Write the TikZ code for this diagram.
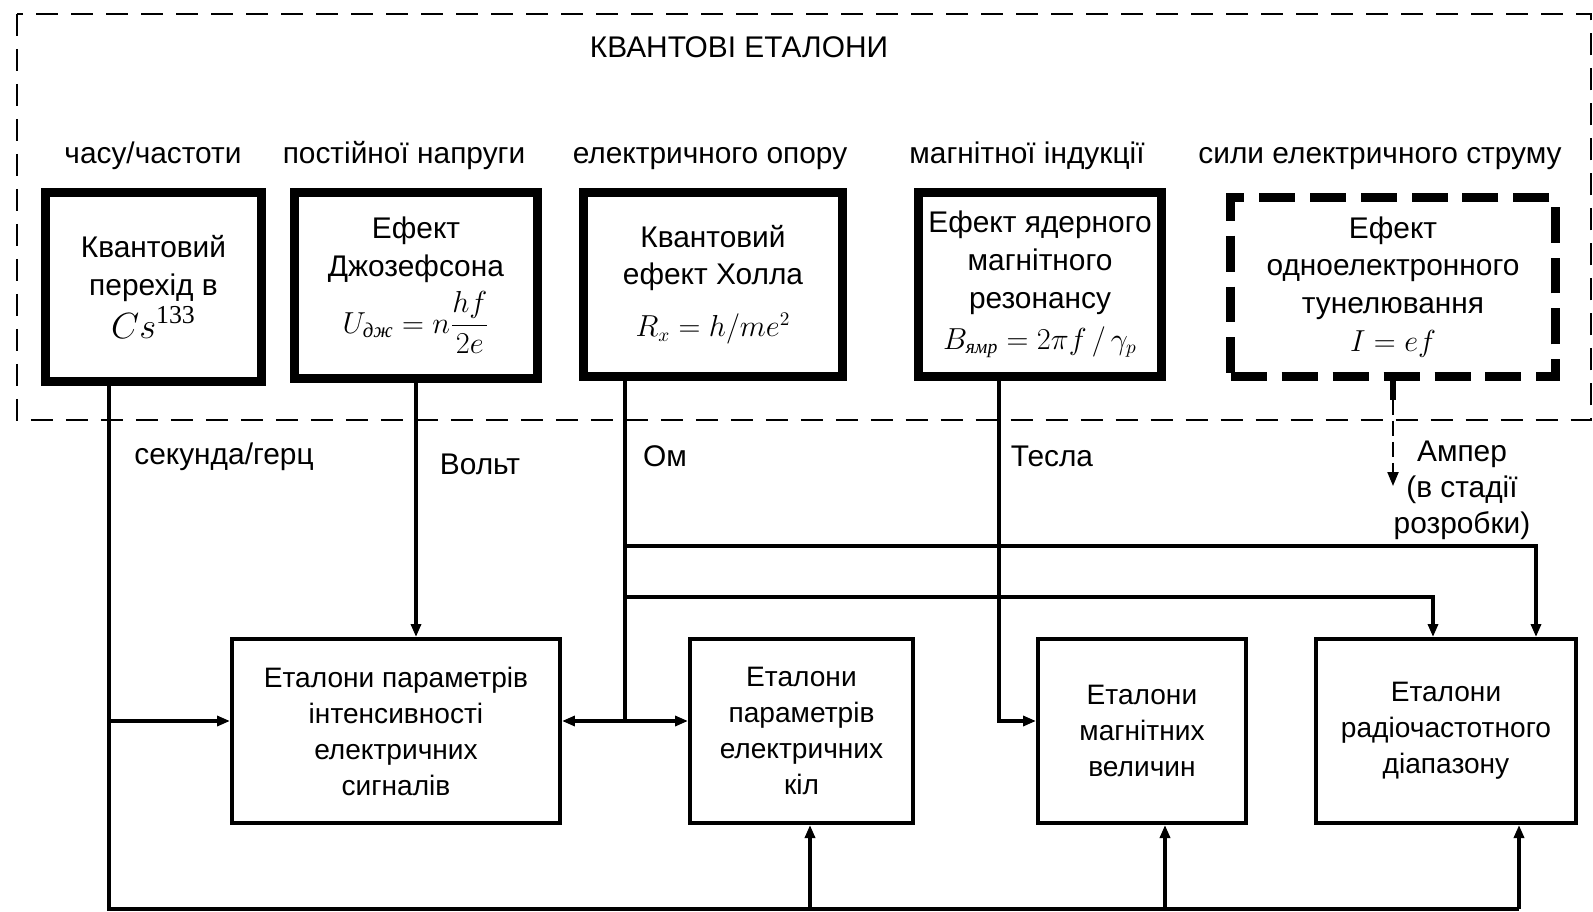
\documentclass[tikz,border=0pt]{standalone}
\usepackage{amsmath}
\usepackage{fontspec}
\setmainfont{Liberation Sans}
\newfontfamily\frm{Liberation Serif}
\usepackage{tikz}
\usetikzlibrary{arrows.meta}
\usetikzlibrary{positioning}
\tikzset{
    qstd/.style={
        draw,
        rectangle,
        line width=5pt,
        align=center,
        inner sep=2pt,
        font=\fontsize{17}{21.5}\selectfont
    },
    qnew/.style={
        qstd,
        dash pattern=on 0.72cm off 0.3cm
    },
    stdbox/.style={
        draw,
        rectangle,
        line width=2.3pt,
        align=center,
        minimum height=3.68cm,
        font=\fontsize{16}{20.5}\selectfont
    },
    field/.style={font=\fontsize{17}{20}\selectfont, anchor=base},
    unit/.style={font=\fontsize{17}{20.5}\selectfont, align=center},
    link/.style={line width=2.3pt},
    arr/.style={link, -{Triangle[length=0.26cm, width=0.2cm]}},
    devarr/.style={line width=1.2pt, dash pattern=on 0.3cm off 0.12cm, -{Triangle[length=0.28cm, width=0.22cm]}}
}
\newcommand{\fsz}[1]{\fontsize{#1}{#1}\selectfont}
\newcommand{\sub}[1]{\text{\frm\itshape #1}}

\begin{document}
\begin{tikzpicture}[x=0.02cm, y=-0.02cm, line join=miter]
    \useasboundingbox (0,0) rectangle (1593,912);
    \fill[white] (0,0) rectangle (1593,912);

    % Frame of the quantum standards
    \draw[line width=1.1pt, dash pattern=on 0.44cm off 0.26cm] (17,14) rectangle (1591,420);
    \node[field] (title) at (739,58) {КВАНТОВІ ЕТАЛОНИ};

    % Quantities
    \node[field] (f1) at (153,164) {часу/частоти};
    \node[field] (f2) at (404,164) {постійної напруги};
    \node[field] (f3) at (710,164) {електричного опору};
    \node[field] (f4) at (1027,164) {магнітної індукції};
    \node[field] (f5) at (1380,164) {сили електричного струму};

    % Quantum effects
    \node[qstd, minimum width=4.32cm, minimum height=3.78cm] (q1) at (153.5,287)
        {Квантовий\\перехід в\\[2pt] {\fsz{21}$\mathnormal{Cs}^{\text{\frm 133}}$}};
    \node[qstd, minimum width=4.86cm, minimum height=3.72cm] (q2) at (416,285.5)
        {Ефект\\Джозефсона\\[4pt] {\fsz{17}$U_{\sub{дж}} = n\dfrac{hf}{2e}$}};
    \node[qstd, minimum width=5.18cm, minimum height=3.68cm] (q3) at (713,284.5)
        {Квантовий\\ефект Холла\\[8pt] {\fsz{16}$R_x = h/me^2$}};
    \node[qstd, minimum width=4.86cm, minimum height=3.68cm] (q4) at (1040,284.5)
        {Ефект ядерного\\магнітного\\резонансу\\[2pt] {\fsz{16}$B_{\sub{ямр}} = 2\pi f\,/\,\gamma_p$}};
    \node[qnew, minimum width=6.5cm, minimum height=3.58cm] (q5) at (1393,287)
        {Ефект\\одноелектронного\\тунелювання\\ {\fsz{17}$I = ef$}};

    % Standards
    \node[stdbox, minimum width=6.56cm] (A) at (396,731)
        {Еталони параметрів\\інтенсивності\\електричних\\сигналів};
    \node[stdbox, minimum width=4.46cm] (B) at (801.5,731)
        {Еталони\\параметрів\\електричних\\кіл};
    \node[stdbox, minimum width=4.16cm] (C) at (1142,731)
        {Еталони\\магнітних\\величин};
    \node[stdbox, minimum width=5.2cm] (D) at (1446,731)
        {Еталони\\радіочастотного\\діапазону};

    % Units
    \node[unit] (sec) at (224,457) {секунда/герц};
    \node[unit] (volt) at (480,464) {Вольт};
    \node[unit] (ohm) at (665,456) {Ом};
    \node[unit] (tesla) at (1052,456) {Тесла};
    \node[unit] (amp) at (1462,490) {Ампер\\(в стадії\\розробки)};

    % Points of the lines
    \coordinate (c0) at (109,909);
    \coordinate (c1) at (109,721);
    \coordinate (bB) at (810,909);
    \coordinate (bC) at (1165,909);
    \coordinate (bD) at (1519,909);
    \coordinate (om) at (625,721);
    \coordinate (r1) at (1536,546);
    \coordinate (r2) at (1433,597);
    \coordinate (tl) at (999,721);
    \coordinate (ae) at (1393,486);
    \coordinate (as) at (1393,400);

    % Time and frequency
    \draw[link] (q1.south -| c0) -- (c0) -- (bD);
    \draw[arr] (c1) -- (A.west |- c1);
    \draw[arr] (bB) -- (B.south -| bB);
    \draw[arr] (bC) -- (C.south -| bC);
    \draw[arr] (bD) -- (D.south -| bD);

    % Voltage
    \draw[arr] (q2.south) -- (A.north -| q2.south);

    % Resistance
    \draw[link] (q3.south -| om) -- (om);
    \draw[arr] (om) -- (A.east |- om);
    \draw[arr] (om) -- (B.west |- om);
    \draw[arr] (om |- r1) -- (r1) -- (D.north -| r1);
    \draw[arr] (om |- r2) -- (r2) -- (D.north -| r2);

    % Magnetic induction
    \draw[arr] (q4.south -| tl) -- (tl) -- (C.west |- tl);

    % Current
    \draw[line width=3pt] (q5.south) -- (as);
    \draw[devarr] (as) -- (ae);
\end{tikzpicture}
\end{document}
